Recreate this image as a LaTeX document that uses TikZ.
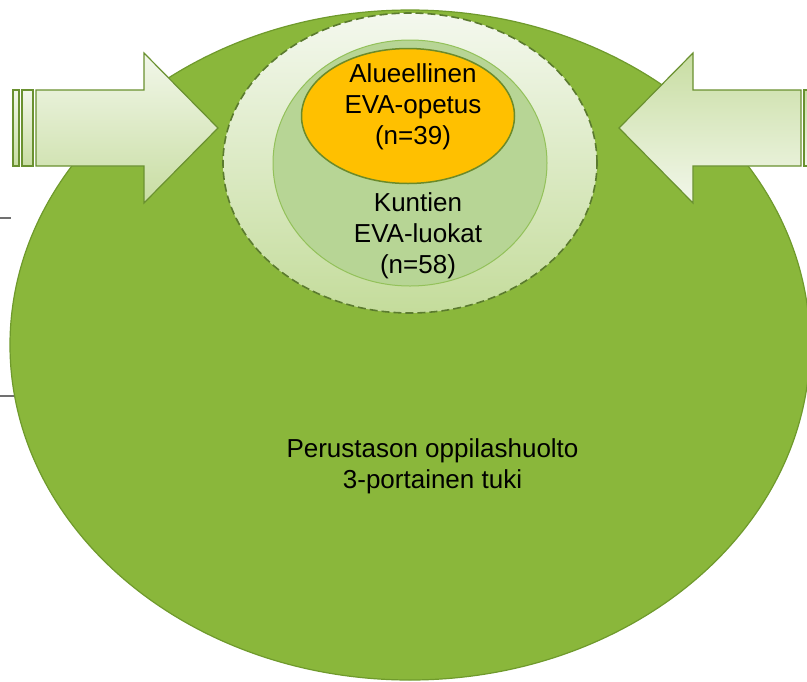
\documentclass[tikz,border=0pt]{standalone}
\usepackage{fontspec}
\setmainfont{Liberation Sans}
\usetikzlibrary{shapes.geometric}
\definecolor{baseFill}{HTML}{8AB73B}
\definecolor{baseLine}{HTML}{6F9A2C}
\definecolor{arrLight}{HTML}{F2F7EA}
\definecolor{arrDark}{HTML}{C8DDA2}
\definecolor{arrLine}{HTML}{6A9130}
\definecolor{dashTop}{HTML}{F4F8EE}
\definecolor{dashBot}{HTML}{C4DC9B}
\definecolor{dashLine}{HTML}{5B7B2E}
\definecolor{midFill}{HTML}{B7D595}
\definecolor{midLine}{HTML}{93C15A}
\definecolor{orangeFill}{HTML}{FFC000}
\definecolor{orangeLine}{HTML}{6B8A2A}
\definecolor{stubGray}{HTML}{707070}
\tikzset{
  blob/.style={ellipse, inner sep=0pt, outer sep=0pt},
  lbl/.style={align=center, font=\fontsize{26}{31}\selectfont, text=black, inner sep=0pt},
  arrowshape/.style={draw=arrLine, line width=1.2pt, line join=miter},
}
\begin{document}
\begin{tikzpicture}[x=1pt, y=-1pt]
\useasboundingbox (0,0) rectangle (807,681);
\clip (0,0) rectangle (807,681);
\fill[white] (0,0) rectangle (807,681);
% grey stubs
\coordinate (s1a) at (0,218); \coordinate (s1b) at (11,218);
\coordinate (s2a) at (0,396); \coordinate (s2b) at (14,396);
\draw[stubGray, line width=1.4pt] (s1a) -- (s1b);
\draw[stubGray, line width=1.4pt] (s2a) -- (s2b);
% base ellipse
\node[blob, fill=baseFill, draw=baseLine, line width=1.2pt,
      minimum width=800pt, minimum height=670pt] (base) at (410,345) {};
% left arrow
\shade[top color=arrLight, bottom color=arrDark, arrowshape]
  (13,90) rectangle (19,166);
\shade[top color=arrLight, bottom color=arrDark, arrowshape]
  (22,90) rectangle (33,166);
\shade[top color=arrLight, bottom color=arrDark, arrowshape]
  (36,90) -- (144,90) -- (144,53) -- (218,128) -- (144,203) -- (144,166) -- (36,166) -- cycle;
% right arrow
\shade[top color=arrDark, bottom color=arrLight, arrowshape]
  (804,90) rectangle (815,166);
\shade[top color=arrDark, bottom color=arrLight, arrowshape]
  (801,90) -- (693,90) -- (693,53) -- (619,128) -- (693,203) -- (693,166) -- (801,166) -- cycle;
% dashed circle
\node[blob, top color=dashTop, bottom color=dashBot, draw=dashLine, line width=1.6pt,
      dash pattern=on 8pt off 4pt,
      minimum width=374pt, minimum height=300pt] (outer) at (410,163) {};
% middle ellipse
\node[blob, fill=midFill, draw=midLine, line width=1pt,
      minimum width=274pt, minimum height=246pt] (mid) at (410,163) {};
% orange ellipse
\node[blob, fill=orangeFill, draw=orangeLine, line width=1.5pt,
      minimum width=213pt, minimum height=135pt] (core) at (408,116) {};
% texts
\node[lbl] (coretext) at (413,107) {Alueellinen\\EVA-opetus\\(n=39)};
\node[lbl] (midtext) at (418,236) {Kuntien\\EVA-luokat\\(n=58)};
\node[lbl] (basetext) at (432.5,466) {Perustason oppilashuolto\\3-portainen tuki};
\end{tikzpicture}
\end{document}
